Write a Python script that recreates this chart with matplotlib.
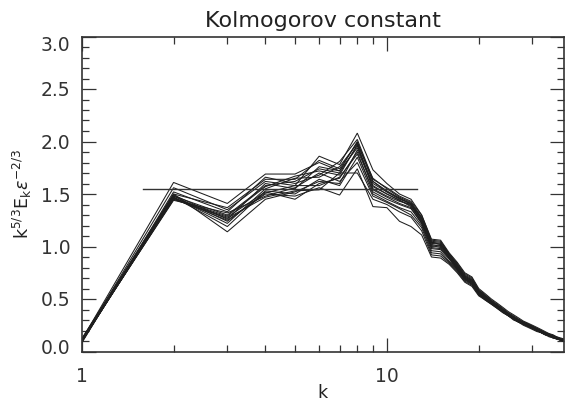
import matplotlib
matplotlib.use("Agg")
import matplotlib.pyplot as plt
import matplotlib.transforms as mtransforms
from matplotlib.ticker import FixedLocator, NullFormatter, FixedFormatter, MultipleLocator
import numpy as np

k = list(range(1, 39))

c01 = [0.11, 1.61, 1.41, 1.69, 1.69, 1.80, 1.72, 2.00, 1.62, 1.52, 1.46, 1.40, 1.27, 1.04, 1.02, 0.92, 0.82, 0.72, 0.68, 0.58, 0.53, 0.48, 0.44, 0.40, 0.36, 0.33, 0.30, 0.28, 0.26, 0.24, 0.22, 0.20, 0.18, 0.16, 0.15, 0.13, 0.12, 0.11]
c02 = [0.10, 1.56, 1.35, 1.62, 1.58, 1.86, 1.78, 2.08, 1.73, 1.60, 1.50, 1.45, 1.30, 1.06, 1.05, 0.93, 0.84, 0.74, 0.70, 0.59, 0.54, 0.49, 0.45, 0.41, 0.37, 0.34, 0.31, 0.28, 0.26, 0.24, 0.22, 0.20, 0.18, 0.17, 0.15, 0.14, 0.12, 0.11]
c03 = [0.09, 1.50, 1.14, 1.45, 1.52, 1.62, 1.60, 1.92, 1.58, 1.50, 1.44, 1.38, 1.25, 1.02, 1.00, 0.90, 0.80, 0.71, 0.67, 0.57, 0.52, 0.47, 0.43, 0.39, 0.36, 0.32, 0.29, 0.27, 0.25, 0.23, 0.21, 0.19, 0.17, 0.16, 0.14, 0.13, 0.12, 0.11]
c04 = [0.10, 1.46, 1.25, 1.50, 1.48, 1.56, 1.49, 1.74, 1.38, 1.37, 1.24, 1.19, 1.11, 0.90, 0.89, 0.83, 0.75, 0.66, 0.62, 0.53, 0.49, 0.45, 0.41, 0.37, 0.34, 0.31, 0.28, 0.26, 0.24, 0.22, 0.20, 0.18, 0.16, 0.15, 0.13, 0.12, 0.11, 0.10]
c05 = [0.12, 1.48, 1.30, 1.58, 1.62, 1.74, 1.70, 1.96, 1.55, 1.48, 1.43, 1.40, 1.24, 1.00, 1.01, 0.90, 0.80, 0.70, 0.66, 0.56, 0.51, 0.47, 0.43, 0.39, 0.35, 0.32, 0.29, 0.27, 0.25, 0.23, 0.21, 0.19, 0.17, 0.15, 0.14, 0.13, 0.11, 0.10]
c06 = [0.10, 1.45, 1.28, 1.52, 1.45, 1.60, 1.65, 1.90, 1.52, 1.45, 1.40, 1.36, 1.22, 0.98, 0.97, 0.88, 0.78, 0.69, 0.65, 0.55, 0.50, 0.46, 0.42, 0.38, 0.35, 0.31, 0.29, 0.26, 0.24, 0.22, 0.20, 0.18, 0.17, 0.15, 0.14, 0.12, 0.11, 0.10]
c07 = [0.09, 1.47, 1.22, 1.55, 1.65, 1.66, 1.76, 1.98, 1.65, 1.55, 1.47, 1.42, 1.28, 1.05, 1.04, 0.93, 0.83, 0.73, 0.69, 0.58, 0.53, 0.48, 0.44, 0.40, 0.36, 0.33, 0.30, 0.28, 0.26, 0.24, 0.21, 0.19, 0.18, 0.16, 0.15, 0.13, 0.12, 0.11]
c08 = [0.11, 1.44, 1.32, 1.48, 1.56, 1.70, 1.62, 1.80, 1.48, 1.42, 1.36, 1.30, 1.18, 0.94, 0.93, 0.85, 0.77, 0.68, 0.64, 0.54, 0.50, 0.46, 0.42, 0.38, 0.34, 0.31, 0.28, 0.26, 0.24, 0.22, 0.20, 0.18, 0.16, 0.15, 0.13, 0.12, 0.11, 0.10]
c09 = [0.10, 1.49, 1.26, 1.60, 1.55, 1.76, 1.72, 1.94, 1.60, 1.52, 1.45, 1.41, 1.26, 1.03, 1.02, 0.91, 0.81, 0.71, 0.67, 0.57, 0.52, 0.47, 0.43, 0.39, 0.36, 0.32, 0.30, 0.27, 0.25, 0.23, 0.21, 0.19, 0.17, 0.16, 0.14, 0.13, 0.12, 0.11]
c10 = [0.08, 1.52, 1.33, 1.66, 1.60, 1.68, 1.81, 2.02, 1.64, 1.56, 1.48, 1.43, 1.30, 1.07, 1.06, 0.94, 0.85, 0.75, 0.71, 0.60, 0.55, 0.50, 0.46, 0.42, 0.38, 0.35, 0.32, 0.29, 0.27, 0.25, 0.23, 0.21, 0.19, 0.17, 0.16, 0.14, 0.13, 0.12]
c11 = [0.11, 1.47, 1.19, 1.53, 1.50, 1.64, 1.58, 1.85, 1.50, 1.43, 1.37, 1.33, 1.20, 0.96, 0.95, 0.86, 0.78, 0.69, 0.64, 0.55, 0.50, 0.46, 0.42, 0.38, 0.34, 0.31, 0.28, 0.26, 0.24, 0.22, 0.20, 0.18, 0.16, 0.15, 0.14, 0.12, 0.11, 0.10]
c12 = [0.10, 1.46, 1.29, 1.57, 1.67, 1.72, 1.68, 1.97, 1.57, 1.50, 1.44, 1.39, 1.23, 1.01, 0.99, 0.89, 0.79, 0.70, 0.66, 0.56, 0.51, 0.46, 0.42, 0.38, 0.35, 0.32, 0.29, 0.27, 0.25, 0.23, 0.21, 0.19, 0.17, 0.15, 0.14, 0.13, 0.12, 0.11]
c13 = [0.09, 1.48, 1.24, 1.51, 1.58, 1.58, 1.66, 1.88, 1.54, 1.47, 1.41, 1.37, 1.22, 0.99, 0.98, 0.89, 0.79, 0.70, 0.65, 0.56, 0.51, 0.47, 0.43, 0.39, 0.35, 0.32, 0.29, 0.27, 0.25, 0.23, 0.21, 0.19, 0.17, 0.15, 0.14, 0.13, 0.11, 0.10]
c14 = [0.12, 1.50, 1.37, 1.64, 1.64, 1.82, 1.74, 1.99, 1.62, 1.53, 1.46, 1.41, 1.27, 1.04, 1.03, 0.92, 0.82, 0.72, 0.68, 0.58, 0.53, 0.48, 0.44, 0.40, 0.36, 0.33, 0.30, 0.28, 0.26, 0.24, 0.22, 0.20, 0.18, 0.16, 0.15, 0.13, 0.12, 0.11]
c15 = [0.10, 1.45, 1.27, 1.47, 1.53, 1.54, 1.70, 1.70, 1.45, 1.40, 1.33, 1.28, 1.15, 0.92, 0.91, 0.84, 0.76, 0.67, 0.63, 0.54, 0.49, 0.45, 0.41, 0.37, 0.34, 0.30, 0.28, 0.25, 0.23, 0.21, 0.19, 0.18, 0.16, 0.14, 0.13, 0.12, 0.11, 0.10]

curves = [c01, c02, c03, c04, c05, c06, c07, c08, c09, c10, c11, c12, c13, c14, c15]

ref_k = [1.585, 12.59]
ref_val = [1.55, 1.55]

y_ticks = [0.0, 0.5, 1.0, 1.5, 2.0, 2.5, 3.0]
y_labels = ["0.0", "0.5", "1.0", "1.5", "2.0", "2.5", "3.0"]
x_ticks = [1, 10]
x_labels = ["1", "10"]
x_minor = [2, 3, 4, 5, 6, 7, 8, 9, 20, 30]

W, H = 566, 405
fig = plt.figure(figsize=(W / 100, H / 100), dpi=100)
left, right, top, bottom = 81.7, 563.8, 36.5, 351.5
ax = fig.add_axes([left / W, 1 - bottom / H, (right - left) / W, (bottom - top) / H])

lc = "#1e1e1e"
for c in curves:
    ax.plot(k, c, color=lc, lw=0.75, solid_joinstyle="miter")
ax.plot(ref_k, ref_val, color="#333333", lw=1.0)

ax.set_xscale("log")
ax.set_xlim(1, 38)
ax.set_ylim(0, 3.0)

ax.xaxis.set_major_locator(FixedLocator(x_ticks))
ax.xaxis.set_major_formatter(FixedFormatter(x_labels))
ax.xaxis.set_minor_locator(FixedLocator(x_minor))
ax.xaxis.set_minor_formatter(NullFormatter())
ax.yaxis.set_major_locator(FixedLocator(y_ticks))
ax.yaxis.set_major_formatter(FixedFormatter(y_labels))
ax.yaxis.set_minor_locator(MultipleLocator(0.1))

ax.tick_params(which="both", direction="in", top=True, right=True, color="#333333", width=0.9)
ax.tick_params(which="major", axis="y", length=10, labelsize=13.5, pad=8, labelcolor="#333333")
ax.tick_params(which="minor", axis="y", length=5)
ax.tick_params(which="major", axis="x", length=10, labelsize=13.5, pad=11, labelcolor="#333333")
ax.tick_params(which="minor", axis="x", length=5)
for s in ax.spines.values():
    s.set_color("#333333")
    s.set_linewidth(1.2)

# IDL-style nudging of the end labels inward
fig.canvas.draw()
ylabs = ax.get_yticklabels()
ylabs[0].set_transform(ylabs[0].get_transform() + mtransforms.ScaledTranslation(0, 5 / 100, fig.dpi_scale_trans))
ylabs[-1].set_transform(ylabs[-1].get_transform() + mtransforms.ScaledTranslation(0, -7 / 100, fig.dpi_scale_trans))

ax.set_title("Kolmogorov constant", fontsize=16, color="#222222", pad=7)
ax.set_xlabel("k", fontsize=12.5, color="#222222", labelpad=-1)
ax.set_ylabel(r"$\mathrm{k^{5/3}E_k}\epsilon^{-2/3}$", fontsize=12.5, color="#222222", labelpad=5)

fig.savefig("out.png", dpi=100)
